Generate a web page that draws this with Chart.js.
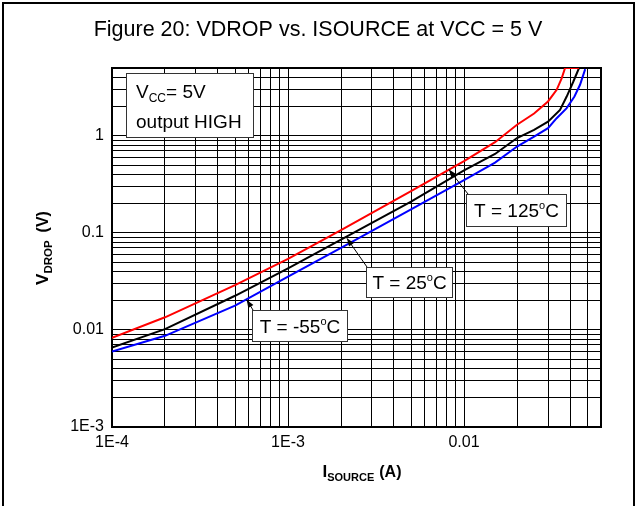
<!DOCTYPE html>
<html>
<head>
<meta charset="utf-8">
<script src="https://cdn.jsdelivr.net/npm/chart.js@4.4.1/dist/chart.umd.min.js"></script>
<style>
  html, body { margin: 0; padding: 0; background: #fff; }
  #wrap { position: relative; width: 636px; height: 506px; }
  canvas { display: block; }
</style>
</head>
<body>
<div id="wrap"><canvas id="c" width="636" height="506"></canvas></div>
<script>
// Source current (A) and voltage drop (V) for each temperature
const isource125 = [1e-4, 2e-4, 5e-4, 1e-3, 2e-3, 5e-3, 0.01, 0.015, 0.02, 0.025, 0.03, 0.0336, 0.0359, 0.0375, 0.045];
const vdrop125   = [0.0083, 0.0135, 0.029, 0.054, 0.107, 0.27, 0.55, 0.86, 1.30, 1.70, 2.26, 2.98, 3.93, 5.0, 5.0];

const isource25 = [1e-4, 2e-4, 5e-4, 1e-3, 2e-3, 5e-3, 0.01, 0.015, 0.02, 0.025, 0.03, 0.0351, 0.0383, 0.0418, 0.045];
const vdrop25   = [0.0066, 0.0102, 0.0225, 0.043, 0.085, 0.21, 0.44, 0.65, 0.95, 1.15, 1.40, 1.85, 2.54, 3.63, 5.0];

const isourceM55 = [1e-4, 2e-4, 5e-4, 1e-3, 2e-3, 5e-3, 0.01, 0.015, 0.02, 0.025, 0.03, 0.0336, 0.0383, 0.0424, 0.0456, 0.0488];
const vdropM55   = [0.0060, 0.0087, 0.0178, 0.0355, 0.070, 0.175, 0.35, 0.53, 0.776, 0.98, 1.20, 1.52, 1.93, 2.54, 3.36, 4.87];

// Decade tick values and their printed labels
const xDecades = [1e-4, 1e-3, 1e-2];
const xTickLabels = ['1E-4', '1E-3', '0.01'];
const yDecades = [1e-3, 1e-2, 1e-1, 1];
const yTickLabels = ['1E-3', '0.01', '0.1', '1'];

const X_MIN = 1e-4, X_MAX = 0.06;
const Y_MIN = 1e-3, Y_MAX = 5;

const FONT = '"Liberation Sans", Arial, Helvetica, sans-serif';

function pts(xs, ys) { return xs.map((x, i) => ({ x: x, y: ys[i] })); }

// 1..9 x decade grid values inside [lo, hi]
function logGrid(lo, hi) {
  const out = [];
  for (let e = Math.floor(Math.log10(lo)); e <= Math.ceil(Math.log10(hi)); e++) {
    for (let k = 1; k <= 9; k++) {
      const v = parseFloat((k * Math.pow(10, e)).toPrecision(6));
      if (v >= lo * 0.9999 && v <= hi * 1.0001) out.push(v);
    }
  }
  return out;
}

function labelFor(v, decades, labels) {
  for (let i = 0; i < decades.length; i++) {
    if (Math.abs(v / decades[i] - 1) < 1e-6) return labels[i];
  }
  return '';
}

// Text runs made of pieces (for subscripts / superscripts); a piece may carry extra gap before it
function fontOf(p) { return (p.bold ? 'bold ' : '') + p.size + 'px ' + FONT; }
function richWidth(ctx, parts) {
  let w = 0;
  parts.forEach(p => { ctx.font = fontOf(p); w += (p.gap || 0) + ctx.measureText(p.t).width; });
  return w;
}
function drawRich(ctx, parts, x, y, align) {
  const w = richWidth(ctx, parts);
  let cx = align === 'center' ? x - w / 2 : (align === 'right' ? x - w : x);
  ctx.textBaseline = 'alphabetic';
  ctx.textAlign = 'left';
  parts.forEach(p => {
    ctx.font = fontOf(p);
    cx += (p.gap || 0);
    ctx.fillText(p.t, cx, y + (p.dy || 0));
    cx += ctx.measureText(p.t).width;
  });
}

function arrow(ctx, x0, y0, x1, y1) {
  ctx.save();
  ctx.strokeStyle = '#000';
  ctx.fillStyle = '#000';
  ctx.lineWidth = 1;
  ctx.beginPath();
  ctx.moveTo(x0, y0);
  ctx.lineTo(x1, y1);
  ctx.stroke();
  const a = Math.atan2(y1 - y0, x1 - x0);
  const L = 8, W = 3;
  ctx.beginPath();
  ctx.moveTo(x1, y1);
  ctx.lineTo(x1 - L * Math.cos(a) + W * Math.sin(a), y1 - L * Math.sin(a) - W * Math.cos(a));
  ctx.lineTo(x1 - L * Math.cos(a) - W * Math.sin(a), y1 - L * Math.sin(a) + W * Math.cos(a));
  ctx.closePath();
  ctx.fill();
  ctx.restore();
}

function box(ctx, x, y, w, h) {
  ctx.save();
  ctx.fillStyle = '#fff';
  ctx.fillRect(x, y, w, h);
  ctx.strokeStyle = '#333';
  ctx.lineWidth = 1;
  ctx.strokeRect(x + 0.5, y + 0.5, w, h);
  ctx.restore();
}

const decor = {
  id: 'decor',
  beforeDatasetsDraw(chart) {
    const ctx = chart.ctx, a = chart.chartArea;
    ctx.save();
    ctx.strokeStyle = '#000';
    ctx.lineWidth = 2;
    ctx.strokeRect(a.left, a.top, a.right - a.left, a.bottom - a.top);
    ctx.restore();
  },
  afterDraw(chart) {
    const ctx = chart.ctx;
    const xs = chart.scales.x, ys = chart.scales.y;
    ctx.save();
    ctx.fillStyle = '#000';

    // outer figure frame (top, left, right)
    ctx.strokeStyle = '#000';
    ctx.lineWidth = 2;
    ctx.beginPath();
    ctx.moveTo(3, 506);
    ctx.lineTo(3, 3);
    ctx.lineTo(634, 3);
    ctx.lineTo(634, 506);
    ctx.stroke();

    // title
    ctx.font = '21.5px ' + FONT;
    ctx.textAlign = 'center';
    ctx.textBaseline = 'alphabetic';
    ctx.fillText('Figure 20: VDROP vs. ISOURCE at VCC = 5 V', 318, 36);

    // axis titles
    drawRich(ctx, [
      { t: 'I', size: 17, bold: true },
      { t: 'SOURCE', size: 11, bold: true, dy: 4 },
      { t: '(A)', size: 16, bold: true, gap: 5 }
    ], 362, 477, 'center');

    ctx.save();
    ctx.translate(48, 248);
    ctx.rotate(-Math.PI / 2);
    drawRich(ctx, [
      { t: 'V', size: 17, bold: true },
      { t: 'DROP', size: 11.5, bold: true, dy: 4 },
      { t: '(V)', size: 16, bold: true, gap: 8 }
    ], 0, 0, 'center');
    ctx.restore();

    // condition box
    box(ctx, 126, 73, 127, 64);
    ctx.fillStyle = '#000';
    drawRich(ctx, [
      { t: 'V', size: 19 },
      { t: 'CC', size: 12, dy: 4 },
      { t: '= 5V', size: 19 }
    ], 136, 98, 'left');
    drawRich(ctx, [{ t: 'output HIGH', size: 19 }], 136, 128, 'left');

    // temperature labels with leader arrows to their curves
    const px = v => xs.getPixelForValue(v), py = v => ys.getPixelForValue(v);

    arrow(ctx, 468, 194, px(0.0082), py(0.45));
    box(ctx, 466, 194, 100, 32);
    drawRich(ctx, [{ t: 'T = 125', size: 19 }, { t: 'o', size: 11, dy: -8 }, { t: 'C', size: 19 }], 516.5, 217, 'center');

    arrow(ctx, 367, 267, px(2.16e-3), py(0.088));
    box(ctx, 366, 267, 86, 30);
    drawRich(ctx, [{ t: 'T = 25', size: 19 }, { t: 'o', size: 11, dy: -8 }, { t: 'C', size: 19 }], 409.5, 289, 'center');

    arrow(ctx, 253, 310, px(5.82e-4), py(0.0205));
    box(ctx, 252, 310, 95, 31);
    drawRich(ctx, [{ t: 'T = -55', size: 19 }, { t: 'o', size: 11, dy: -8 }, { t: 'C', size: 19 }], 300, 333, 'center');

    ctx.restore();
  }
};

new Chart(document.getElementById('c'), {
  type: 'scatter',
  data: {
    datasets: [
      { label: 'T = 125°C', data: pts(isource125, vdrop125), borderColor: '#ff0000' },
      { label: 'T = 25°C', data: pts(isource25, vdrop25), borderColor: '#000000' },
      { label: 'T = -55°C', data: pts(isourceM55, vdropM55), borderColor: '#0000ff' }
    ].map(d => Object.assign(d, { showLine: true, borderWidth: 2, pointRadius: 0, tension: 0, fill: false }))
  },
  options: {
    responsive: false,
    animation: false,
    devicePixelRatio: 1,
    layout: { padding: { left: 0, right: 35, top: 68, bottom: 0 } },
    plugins: { legend: { display: false }, title: { display: false }, tooltip: { enabled: false } },
    scales: {
      x: {
        type: 'logarithmic',
        min: X_MIN, max: X_MAX,
        afterBuildTicks: s => { s.ticks = logGrid(X_MIN, X_MAX).map(v => ({ value: v })); },
        afterFit: s => { s.height = 79; },
        grid: { color: '#000', lineWidth: 1, drawTicks: false },
        border: { display: false },
        ticks: {
          autoSkip: false, maxRotation: 0, padding: 6,
          color: '#000', font: { family: FONT, size: 16 },
          callback: v => labelFor(v, xDecades, xTickLabels)
        }
      },
      y: {
        type: 'logarithmic',
        min: Y_MIN, max: Y_MAX,
        afterBuildTicks: s => { s.ticks = logGrid(Y_MIN, Y_MAX).map(v => ({ value: v })); },
        afterFit: s => { s.width = 112; },
        grid: { color: '#000', lineWidth: 1, drawTicks: false },
        border: { display: false },
        ticks: {
          autoSkip: false, padding: 8,
          color: '#000', font: { family: FONT, size: 16 },
          callback: v => labelFor(v, yDecades, yTickLabels)
        }
      }
    }
  },
  plugins: [decor]
});
</script>
</body>
</html>
